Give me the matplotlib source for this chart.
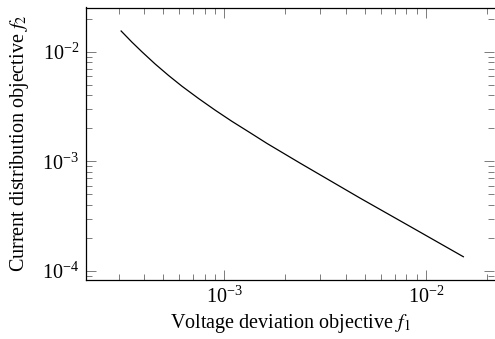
import matplotlib
matplotlib.use("Agg")
import matplotlib.pyplot as plt
from matplotlib.ticker import LogLocator, NullFormatter

# Pareto front (log-log)
f1_vals = [3.09e-4, 3.49e-4, 3.92e-4, 4.55e-4, 5.30e-4, 6.18e-4, 7.46e-4,
           9.02e-4, 1.09e-3, 1.35e-3, 1.63e-3, 2.38e-3, 4.71e-3, 8.34e-3,
           1.53e-2]
f2_vals = [1.55e-2, 1.23e-2, 1.00e-2, 7.76e-3, 6.10e-3, 4.86e-3, 3.76e-3,
           2.94e-3, 2.33e-3, 1.82e-3, 1.46e-3, 9.64e-4, 4.63e-4, 2.55e-4,
           1.35e-4]

xlabel = r"Voltage deviation objective $f_1$"
ylabel = r"Current distribution objective $f_2$"

plt.rcParams["font.family"] = ["Liberation Serif", "DejaVu Serif"]
plt.rcParams["mathtext.fontset"] = "stix"

fig = plt.figure(figsize=(4.95, 3.39), dpi=100)
ax = fig.add_axes([86 / 495, 1 - 280 / 339, (494 - 86) / 495, (280 - 7.5) / 339])

ax.plot(f1_vals, f2_vals, color="black", linewidth=0.9, solid_joinstyle="round")

ax.set_xscale("log")
ax.set_yscale("log")
ax.set_xlim(2.07e-4, 2.17e-2)
ax.set_ylim(8.28e-5, 2.54e-2)

for a in (ax.xaxis, ax.yaxis):
    a.set_major_locator(LogLocator(base=10, numticks=10))
    a.set_minor_locator(LogLocator(base=10, subs=range(2, 10), numticks=10))
    a.set_minor_formatter(NullFormatter())

ax.tick_params(which="both", direction="in", top=True, right=True,
               color="#666666", width=0.6, labelsize=14.5, pad=5)
ax.tick_params(which="major", length=7)
ax.tick_params(which="minor", length=4)

for s in ax.spines.values():
    s.set_linewidth(0.9)
ax.spines["right"].set_visible(False)

ax.set_xlabel(xlabel, fontsize=14.5, labelpad=3)
ax.set_ylabel(ylabel, fontsize=14.5, labelpad=8)

fig.savefig("out.png", dpi=100)
